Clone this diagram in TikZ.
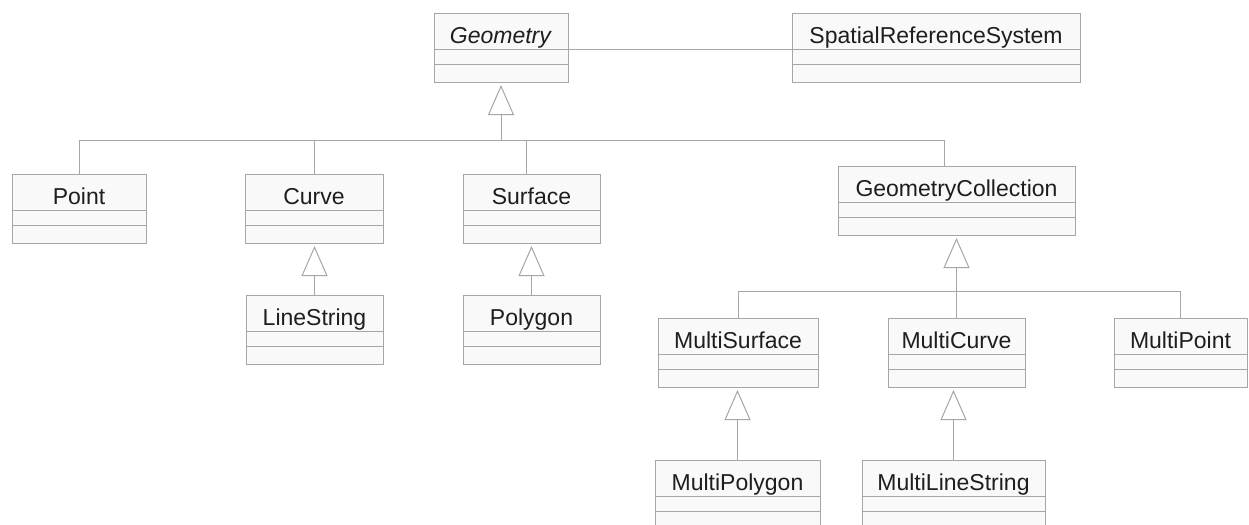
\documentclass[tikz,border=0pt]{standalone}
\usepackage{fontspec}
\setmainfont{Liberation Sans}
\usepackage{xcolor}
\usetikzlibrary{arrows.meta, positioning, calc}

\definecolor{umlline}{HTML}{A6A6A6}
\definecolor{umlfill}{HTML}{F9F9F9}
\definecolor{umltext}{HTML}{1E1E1E}

\begin{document}
\begin{tikzpicture}[x=0.5pt, y=-0.5pt, line width=0.5pt,
    cls/.style={draw=umlline, fill=umlfill, anchor=north west, inner sep=0pt, outer sep=0pt,
      minimum height=18pt, text height=14pt, text depth=2pt, text=umltext,
      font=\fontsize{11.5}{13}\selectfont},
    cmp/.style={draw=umlline, fill=umlfill, inner sep=0pt, outer sep=0pt},
    link/.style={draw=umlline},
    gen/.style={draw=umlline, shorten >=1.5pt,
      -{Triangle[open, length=15pt, width=13pt, fill=white]}}]
  \path[use as bounding box, fill=white] (0,0) rectangle (1249,525);

  % classes: name / text / left / top / width (px)
  \foreach \n/\t/\x/\y/\w in {
      geo/{\textit{Geometry}}/434/13/134,
      srs/SpatialReferenceSystem/792/13/288,
      point/Point/12/174/134,
      curve/Curve/245/174/138,
      surf/Surface/463/174/137,
      gc/GeometryCollection/838/166/237,
      linestr/LineString/246/295/137,
      poly/Polygon/463/295/137,
      msurf/MultiSurface/658/318/160,
      mcurve/MultiCurve/888/318/137,
      mpoint/MultiPoint/1114/318/133,
      mpoly/MultiPolygon/655/460/165,
      mls/MultiLineString/862/460/183} {
    \node[cls, minimum width=\w*0.5pt] (\n) at (\x,\y) {\t};
    \node[cmp, minimum width=\w*0.5pt, minimum height=7.5pt, below=0pt of \n] (\n-a) {};
    \node[cmp, minimum width=\w*0.5pt, minimum height=9pt, below=0pt of \n-a] (\n-o) {};
  }

  % association
  \draw[link] (geo.south east) -- (srs.south west);

  % Geometry subclasses
  \path (geo-o.south) ++(0,58) coordinate (bus1);
  \draw[gen] (bus1) -- (geo-o.south);
  \draw[link] (point.north) |- (bus1);
  \draw[link] (curve.north) |- (bus1);
  \draw[link] ($(surf.north)+(-5,0)$) |- (bus1);
  \draw[link] ($(gc.north)+(-12,0)$) |- (bus1);

  \draw[gen] (linestr.north) -- (linestr.north |- curve-o.south);
  \draw[gen] (poly.north) -- (poly.north |- surf-o.south);

  % collection subclasses
  \path (gc-o.south) ++(0,56) coordinate (bus2);
  \draw[gen] (bus2) -- (gc-o.south);
  \draw[link] (msurf.north) |- (bus2);
  \draw[link] (mcurve.north) |- (bus2);
  \draw[link] (mpoint.north) |- (bus2);

  \draw[gen] (mpoly.north) -- (mpoly.north |- msurf-o.south);
  \draw[gen] (mls.north) -- (mls.north |- mcurve-o.south);
\end{tikzpicture}
\end{document}
